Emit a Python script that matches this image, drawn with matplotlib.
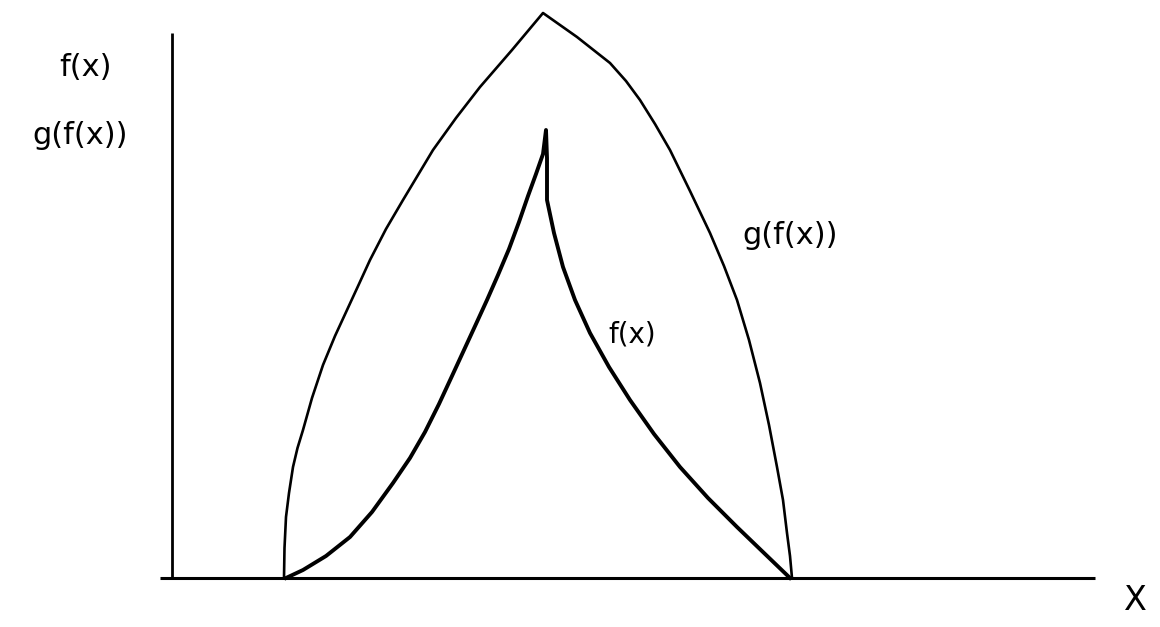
import matplotlib
matplotlib.use("Agg")
import matplotlib.pyplot as plt

# outer curve g(f(x)), traced points (x, y) with origin at the axes corner
g_x = [112, 112.5, 114, 117, 121, 125.5, 131, 140, 151, 163, 175, 187, 198,
       214, 231, 246, 261, 284, 308, 340, 371,
       405, 438, 454, 468, 483, 498, 518, 538, 552, 565, 577, 588,
       597, 605, 611, 615, 618, 620]
g_y = [0, 30, 61, 85, 111, 130, 148, 180, 213, 242, 268, 294, 318,
       349, 378, 403, 428, 460, 491, 528, 565,
       541, 515, 497, 478, 454, 428, 387, 345, 312, 278, 238, 195,
       153, 111, 78, 45, 22, 0]

# inner curve f(x) with the cusp at the top
f_x = [114, 131, 154, 178, 200, 221, 238, 253, 267, 280, 292, 304, 315,
       326, 337, 347, 356, 364, 371, 374,
       375, 375, 382, 391, 403, 418, 437, 458, 482, 508, 536, 565, 592, 618]
f_y = [0, 8, 22, 41, 66, 95, 120, 146, 174, 202, 228, 254, 278,
       303, 329, 356, 382, 404, 424, 448,
       420, 378, 345, 311, 278, 245, 211, 178, 144, 111, 80, 51, 25, 0]

y_axis_top = 545
x_axis_left = -12
x_axis_right = 923

fig = plt.figure(figsize=(11.6, 6.27), dpi=100)
ax = fig.add_axes([0, 0, 1, 1])
ax.set_xlim(-172, 988)
ax.set_ylim(-49, 578)

# hand-drawn style axes
ax.plot([0, 0], [0, y_axis_top], color="black", lw=2.0, solid_capstyle="butt")
ax.plot([x_axis_left, x_axis_right], [0, 0], color="black", lw=2.2, solid_capstyle="butt")

ax.plot(g_x, g_y, color="black", lw=1.9, solid_joinstyle="round")
ax.plot(f_x, f_y, color="black", lw=2.8, solid_joinstyle="round")

# labels
ax.text(-87, 510, "f(x)", fontsize=22, ha="center", va="center")
ax.text(-92, 443, "g(f(x))", fontsize=22, ha="center", va="center")
ax.text(618, 343, "g(f(x))", fontsize=22, ha="center", va="center")
ax.text(460, 243, "f(x)", fontsize=20, ha="center", va="center")
ax.text(963, -22, "X", fontsize=24, ha="center", va="center")

ax.axis("off")
fig.savefig("out.png", dpi=100, facecolor="white")
